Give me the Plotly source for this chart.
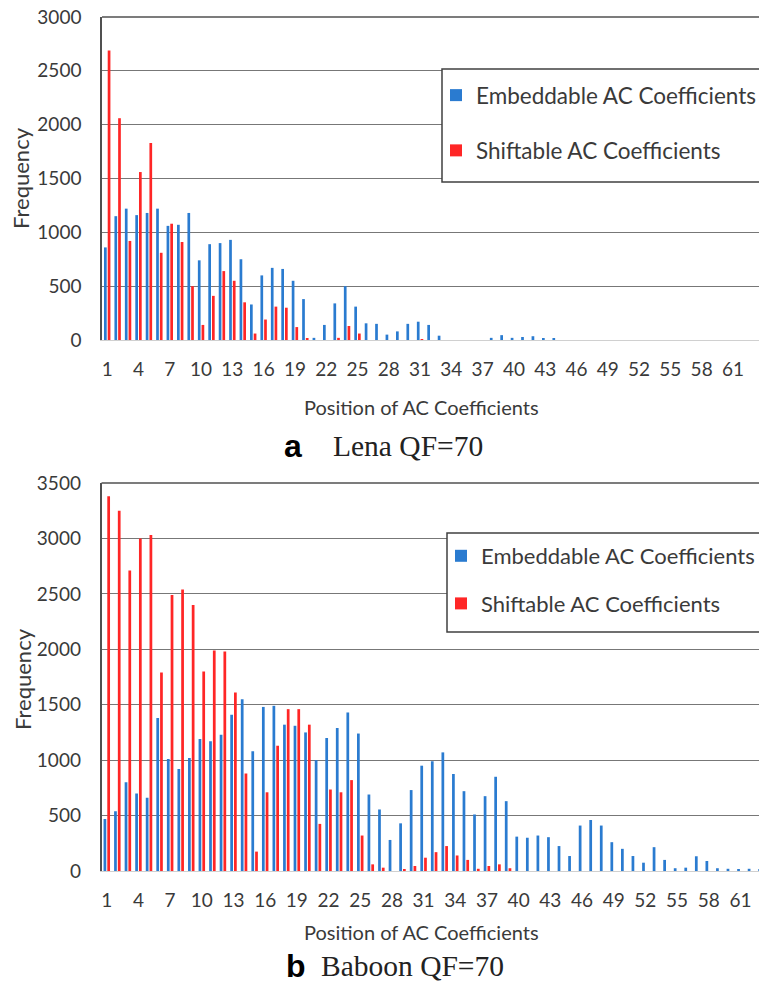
import plotly.graph_objects as go

positions = list(range(1, 64))
tick_vals = list(range(1, 62, 3))
tick_text = [str(v) for v in tick_vals]

lena_embeddable = [860, 1150, 1220, 1160, 1180, 1220, 1060, 1070, 1180, 740,
                   890, 900, 930, 750, 330, 600, 670, 660, 550, 380,
                   20, 140, 340, 500, 310, 155, 150, 50, 80, 150,
                   170, 140, 40, 0, 0, 0, 0, 20, 45, 20,
                   28, 35, 18, 10, 0, 0, 0, 0, 0, 0,
                   0, 0, 0, 0, 0, 0, 0, 0, 0, 0,
                   0, 0, 0]
lena_shiftable = [2690, 2060, 920, 1560, 1830, 810, 1080, 910, 500, 140,
                  410, 640, 550, 350, 60, 190, 310, 300, 120, 10,
                  0, 0, 20, 130, 60, 0, 0, 0, 0, 0,
                  5, 0, 0, 0, 0, 0, 0, 0, 0, 0,
                  0, 0, 0, 0, 0, 0, 0, 0, 0, 0,
                  0, 0, 0, 0, 0, 0, 0, 0, 0, 0,
                  0, 0, 0]
baboon_embeddable = [470, 540, 800, 700, 660, 1380, 1010, 920, 1020, 1190,
                     1170, 1230, 1410, 1550, 1080, 1480, 1490, 1320, 1310, 1250,
                     1000, 1200, 1290, 1430, 1240, 690, 555, 280, 430, 730,
                     950, 990, 1070, 875, 720, 510, 675, 850, 630, 310,
                     300, 320, 305, 225, 135, 410, 460, 410, 260, 200,
                     135, 75, 215, 100, 25, 30, 133, 90, 25, 20,
                     18, 20, 18]
baboon_shiftable = [3380, 3250, 2710, 3000, 3030, 1790, 2490, 2540, 2400, 1800,
                    1990, 1980, 1610, 880, 175, 710, 1130, 1460, 1460, 1320,
                    425, 735, 710, 820, 320, 60, 30, 0, 10, 45,
                    120, 170, 225, 140, 100, 20, 45, 60, 25, 0,
                    0, 0, 0, 0, 0, 0, 0, 0, 0, 0,
                    0, 0, 0, 0, 0, 0, 0, 0, 0, 0,
                    0, 0, 0]

BLUE = "#2a7bd0"
RED = "#ff2626"
TXT = "#3a3a3a"
FONT = "Lato"
W, H = 759, 986


def px(y):
    return (H - y) / H


fig = go.Figure()
fig.add_trace(go.Bar(x=positions, y=lena_embeddable, name="Embeddable AC Coefficients",
                     marker=dict(color=BLUE, line=dict(width=0)), xaxis="x", yaxis="y",
                     legend="legend", legendgroup="a1"))
fig.add_trace(go.Bar(x=positions, y=lena_shiftable, name="Shiftable AC Coefficients",
                     marker=dict(color=RED, line=dict(width=0)), xaxis="x", yaxis="y",
                     legend="legend", legendgroup="a2"))
fig.add_trace(go.Bar(x=positions, y=baboon_embeddable, name="Embeddable AC Coefficients",
                     marker=dict(color=BLUE, line=dict(width=0)), xaxis="x2", yaxis="y2",
                     legend="legend2", legendgroup="b1"))
fig.add_trace(go.Bar(x=positions, y=baboon_shiftable, name="Shiftable AC Coefficients",
                     marker=dict(color=RED, line=dict(width=0)), xaxis="x2", yaxis="y2",
                     legend="legend2", legendgroup="b2"))

tickfont = dict(family=FONT, size=19, color=TXT)
xcommon = dict(tickmode="array", tickvals=tick_vals, ticktext=tick_text, tickfont=tickfont,
               showgrid=False, zeroline=False, showline=True, linecolor="#d0d0d0",
               linewidth=1, ticks="", ticklabelstandoff=12)
ycommon = dict(tickfont=tickfont, dtick=500, showgrid=True, gridcolor="#777777", gridwidth=1,
               zeroline=False, showline=True, linecolor="#505050", linewidth=1.5,
               ticks="", ticklabelstandoff=15)

fig.update_layout(
    width=W, height=H, margin=dict(l=0, r=0, t=0, b=0, autoexpand=False),
    paper_bgcolor="white", plot_bgcolor="white",
    barmode="group", bargap=0.29, bargroupgap=0.27,
    xaxis=dict(domain=[102 / W, 1], range=[0.5, 63.5], anchor="y", **xcommon),
    yaxis=dict(domain=[px(340), px(17)], range=[0, 3000], anchor="x", **ycommon),
    xaxis2=dict(domain=[101.5 / W, 1], range=[0.5, 62.76], anchor="y2", **xcommon),
    yaxis2=dict(domain=[px(871), px(483)], range=[0, 3500], anchor="x2", **ycommon),
    legend=dict(x=436 / W, y=px(74), xanchor="left", yanchor="top", bgcolor="rgba(0,0,0,0)",
                borderwidth=0, tracegroupgap=23, font=dict(family=FONT, size=22.5, color=TXT)),
    legend2=dict(x=441 / W, y=px(535), xanchor="left", yanchor="top", bgcolor="rgba(0,0,0,0)",
                 borderwidth=0, tracegroupgap=16, font=dict(family=FONT, size=22, color=TXT)),
    showlegend=True,
)

for yref in ["y domain", "y2 domain"]:
    xref = "x domain" if yref == "y domain" else "x2 domain"
    fig.add_shape(type="line", xref=xref, yref=yref, x0=0, x1=1, y0=1, y1=1,
                  line=dict(color="#505050", width=1.5))

# legend frames
for x0, y0, y1 in [(442, 69, 182), (447, 533, 632)]:
    fig.add_shape(type="rect", xref="paper", yref="paper", x0=x0 / W, x1=790 / W,
                  y0=px(y1), y1=px(y0), layer="above", fillcolor="white",
                  line=dict(color="#404040", width=1.5))

ann = []
ann.append(dict(text="Frequency", x=21 / W, y=px(178), textangle=-90, size=22))
ann.append(dict(text="Frequency", x=22 / W, y=px(679), textangle=-90, size=22))
ann.append(dict(text="Position of AC Coefficients", x=421 / W, y=px(407), size=20))
ann.append(dict(text="Position of AC Coefficients", x=421 / W, y=px(932), size=20))
for a in ann:
    s = a.pop("size")
    a.update(xref="paper", yref="paper", showarrow=False, xanchor="center", yanchor="middle",
             font=dict(family=FONT, size=s, color=TXT))
    fig.add_annotation(**a)

caps = [("a", "Lena QF=70", 293, 408, 446), ("b", "Baboon QF=70", 295.5, 412, 966)]
for letter, label, lx, tx, cy in caps:
    fig.add_annotation(text="<b>" + letter + "</b>", x=lx / W, y=px(cy), xref="paper", yref="paper",
                       showarrow=False, xanchor="center", yanchor="middle",
                       font=dict(family="Liberation Sans", size=32, color="black"))
    fig.add_annotation(text=label, x=tx / W, y=px(cy), xref="paper", yref="paper",
                       showarrow=False, xanchor="center", yanchor="middle",
                       font=dict(family="Liberation Serif", size=29.5, color="#222222"))

fig.write_html("out.html")
